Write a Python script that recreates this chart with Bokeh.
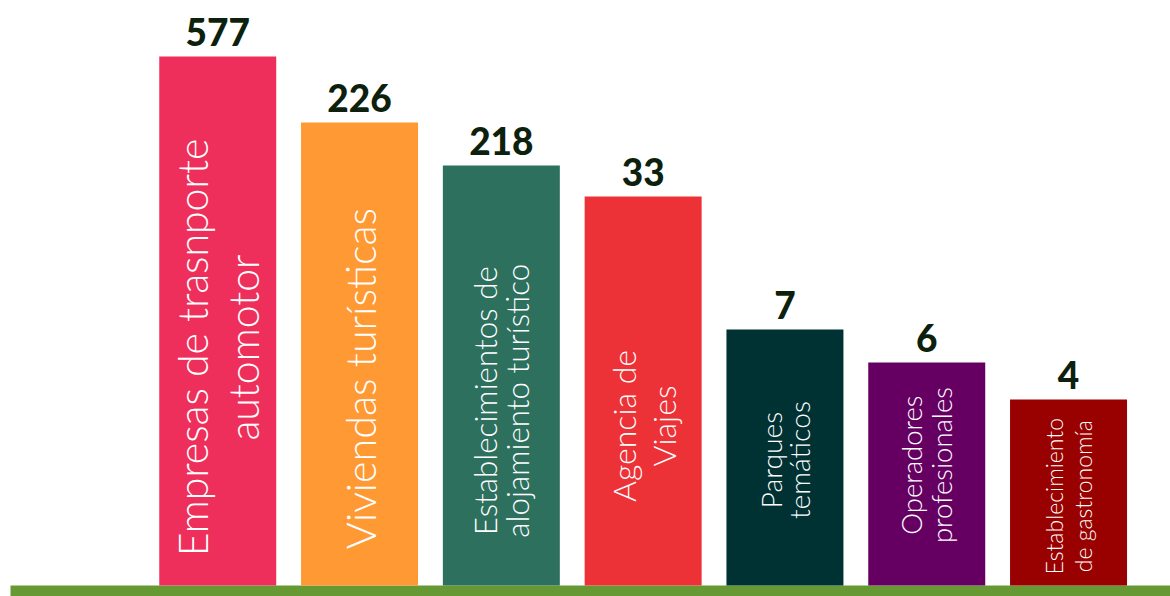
import math
from bokeh.plotting import figure
from bokeh.models import Range1d, BoxAnnotation
from bokeh.core.properties import value
from bokeh.embed import file_html
from bokeh.resources import INLINE

# ---- data ----
categories = [
    "Empresas de trasnporte\nautomotor",
    "Viviendas turísticas",
    "Establecimientos de\nalojamiento turístico",
    "Agencia de\nViajes",
    "Parques\ntemáticos",
    "Operadores\nprofesionales",
    "Establecimiento\nde gastronomía",
]
counts = [577, 226, 218, 33, 7, 6, 4]
# displayed bar heights (the picture is not drawn to scale)
bar_heights = [529, 463, 420, 389, 256, 223, 186]
colors = ["#EE2F5B", "#FF9933", "#2D705E", "#EC3237", "#003133", "#650062", "#990000"]

# ---- styles ----
label_sizes = [41, 41.3, 31.4, 32, 28.3, 27.5, 23]
label_line_heights = [1.04, 1.0, 0.85, 1.02, 0.83, 0.91, 1.01]
label_mid_frac = [0.45, 0.447, 0.44, 0.41, 0.49, 0.54, 0.48]

xs = list(range(len(categories)))

p = figure(width=1170, height=596, output_backend="svg", toolbar_location=None,
           x_range=Range1d(-1.532, 6.719), y_range=Range1d(-11, 585),
           min_border=0, outline_line_color=None)
p.xaxis.visible = False
p.yaxis.visible = False
p.grid.visible = False
p.background_fill_color = "white"

p.vbar(x=xs, top=bar_heights, bottom=0, width=0.825, fill_color=colors, line_color=None)

p.add_layout(BoxAnnotation(bottom=-11, top=0, left=10, left_units="screen",
                           fill_color="#669933", fill_alpha=1.0, line_color=None, level="underlay"))

# value labels above bars
p.text(x=xs, y=bar_heights, text=[str(c) for c in counts],
       text_font=value("Lato Black"), text_font_style="bold", text_font_size="37px",
       text_color="#0d1f0d", text_align="center", text_baseline="alphabetic",
       y_offset=-25)

# rotated category labels inside bars
for i in xs:
    p.text(x=[i], y=[bar_heights[i] * label_mid_frac[i]], text=[categories[i]],
           angle=math.pi / 2, text_font=value("Lato Light"),
           text_font_size=f"{label_sizes[i]}px", text_color="white",
           text_align="center", text_baseline="middle",
           text_line_height=label_line_heights[i])

open("out.html", "w").write(file_html(p, INLINE))
